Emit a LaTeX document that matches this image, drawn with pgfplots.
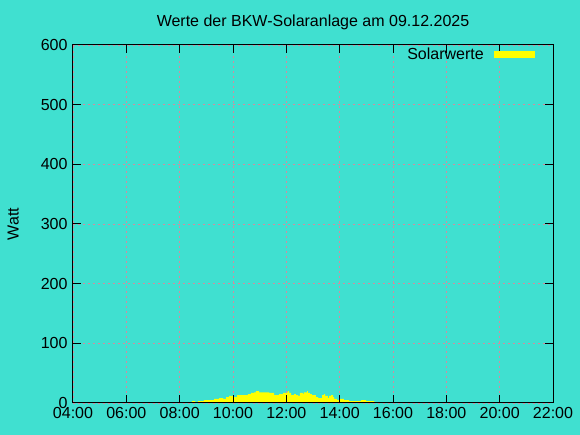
\documentclass[border=0pt]{standalone}
\usepackage{pgfplots}
\pgfplotsset{compat=1.18}
\usepackage{fontspec}
\setmainfont{Liberation Sans}
\definecolor{turq}{RGB}{64,224,208}
\definecolor{gridc}{RGB}{210,140,160}
\definecolor{sunyellow}{RGB}{255,255,0}

\begin{document}
\begin{tikzpicture}
\fill[turq] (-73pt,-32pt) rectangle (507pt,403pt);
\useasboundingbox (-73pt,-32pt) rectangle (507pt,403pt);
\begin{axis}[
   at={(0,0)}, anchor=south west,
   scale only axis, width=480pt, height=358pt,
   xmin=4, xmax=22, ymin=0, ymax=600,
   xtick={4,6,...,22},
   xticklabels={04:00,06:00,08:00,10:00,12:00,14:00,16:00,18:00,20:00,22:00},
   ytick={0,100,...,600},
   tick align=inside, major tick length=8pt,
   axis line style={black, line width=1pt},
   every tick/.style={black, line width=1pt},
   grid=major,
   major grid style={gridc, dash pattern=on 2pt off 3pt, line width=0.8pt},
   font=\fontsize{16}{18}\selectfont,
   ticklabel style={font=\fontsize{16}{18}\selectfont},
   /pgf/number format/assume math mode=true,
   yticklabel style={xshift=-2pt},
   xticklabel style={yshift=-1pt},
   title={Werte der BKW-Solaranlage am 09.12.2025},
   title style={yshift=6pt},
   ylabel={Watt},
   ylabel style={yshift=15pt},
   legend plot pos=right,
   legend style={at={(1,1)}, anchor=north east, xshift=-15pt, yshift=1pt,
     draw=none, fill=none, font=\fontsize{16}{18}\selectfont},
   legend image code/.code={\path (0pt,0pt); \fill[sunyellow] (8pt,-3.5pt) rectangle (49pt,3.5pt);},
   axis on top,
]
\addplot[const plot, fill=sunyellow, draw=none] coordinates {
(8.46,0) (8.46,3) (8.575,2) (8.6875,3) (8.91,5) (9.29,7) (9.475,8) (9.625,7)
(9.74,10) (9.85,12) (10.0,10) (10.15,13) (10.56,15) (10.675,17) (10.79,18)
(10.86,20) (10.975,18) (11.125,18) (11.35,17) (11.54,13) (11.725,15) (11.875,17)
(11.99,18) (12.06,20) (12.1,17) (12.175,13) (12.29,15) (12.36,13) (12.44,12)
(12.51,17) (12.625,15) (12.66,18) (12.775,20) (12.81,17) (12.89,15) (12.96,13)
(13.11,10) (13.19,8) (13.34,13) (13.41,15) (13.45,12) (13.56,8) (13.6,12)
(13.675,13) (13.75,10) (13.79,7) (13.9,5) (13.975,7) (14.16,5) (14.35,3)
(14.8,5) (14.99,3) (15.29,2) (15.36,0)
};
\addlegendentry{Solarwerte}
\end{axis}
\end{tikzpicture}
\end{document}
